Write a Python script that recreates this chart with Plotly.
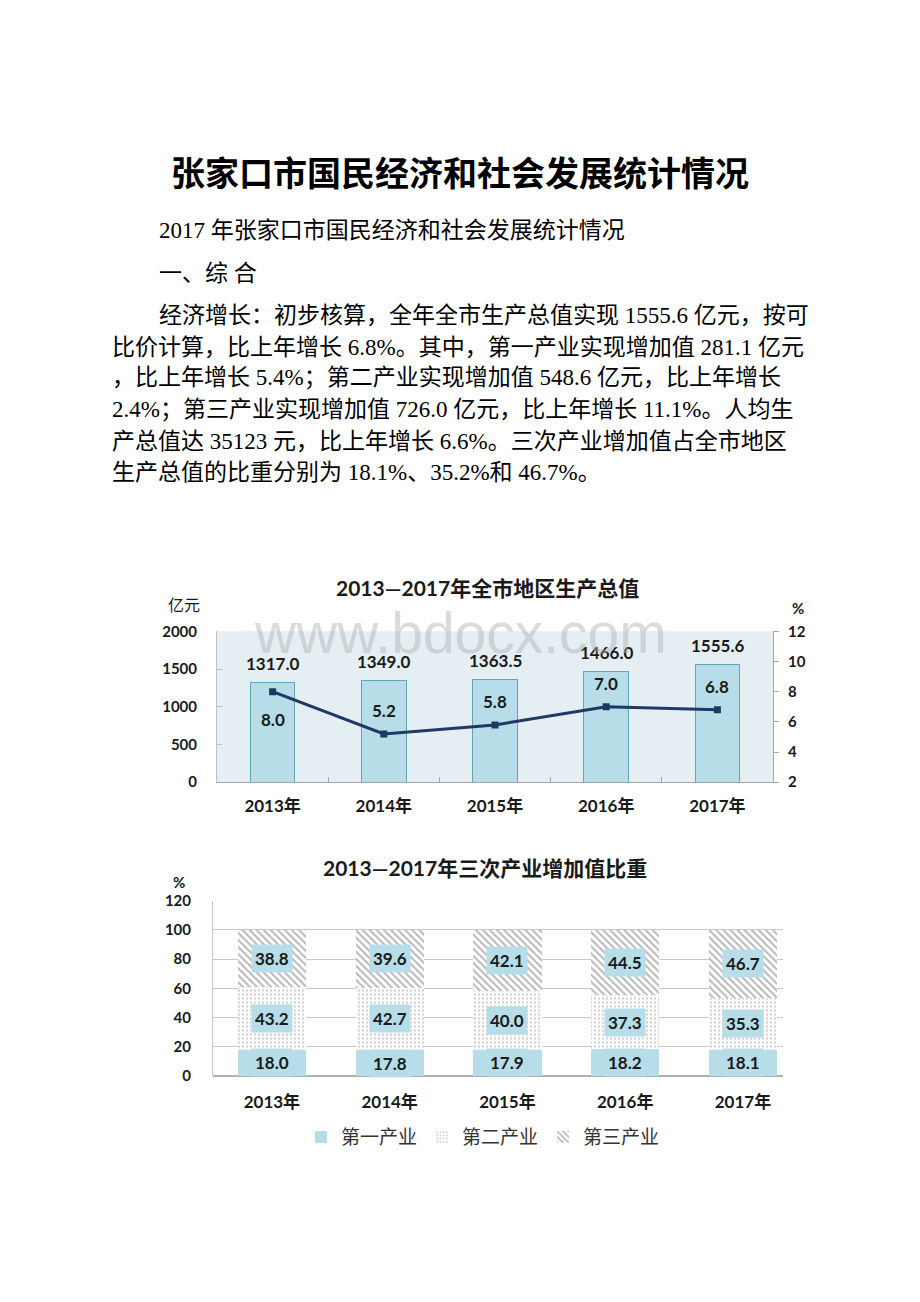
import plotly.graph_objects as go

# page is 920x1302; the html body has an 8px default margin, so the figure is 912x1294
OFF = 8
W, H = 920 - OFF, 1302 - OFF

# ---------------- data ----------------
years = ["2013年", "2014年", "2015年", "2016年", "2017年"]
gdp = [1317.0, 1349.0, 1363.5, 1466.0, 1555.6]          # 亿元
growth = [8.0, 5.2, 5.8, 7.0, 6.8]                       # %
primary = [18.0, 17.8, 17.9, 18.2, 18.1]                 # 第一产业 %
secondary = [43.2, 42.7, 40.0, 37.3, 35.3]               # 第二产业 %
tertiary = [38.8, 39.6, 42.1, 44.5, 46.7]                # 第三产业 %
industry_names = ["第一产业", "第二产业", "第三产业"]

doc_title = "张家口市国民经济和社会发展统计情况"
doc_sub = "2017 年张家口市国民经济和社会发展统计情况"
doc_sec = "一、综 合"
doc_lines = [
    "经济增长：初步核算，全年全市生产总值实现 1555.6 亿元，按可",
    "比价计算，比上年增长 6.8%。其中，第一产业实现增加值 281.1 亿元",
    "，比上年增长 5.4%；第二产业实现增加值 548.6 亿元，比上年增长",
    "2.4%；第三产业实现增加值 726.0 亿元，比上年增长 11.1%。人均生",
    "产总值达 35123 元，比上年增长 6.6%。三次产业增加值占全市地区",
    "生产总值的比重分别为 18.1%、35.2%和 46.7%。",
]
chart1_title = "2013—2017年全市地区生产总值"
chart2_title = "2013—2017年三次产业增加值比重"


def py(y):
    return 1 - (y - OFF) / H


def pxx(x):
    return (x - OFF) / W


CH_FONT = "Lato, 'Noto Sans CJK SC', sans-serif"
DOC_FONT = "'Liberation Serif', 'Noto Sans CJK SC', serif"
BAR_BLUE = "#b7dde8"
BAR_EDGE = "#5ea6ba"
NAVY = "#1f3864"
TXT = "#1a1a1a"

fig = go.Figure()

# ---------------- chart 1 ----------------
fig.add_trace(go.Bar(
    x=years, y=gdp, xaxis="x", yaxis="y", width=0.4,
    marker=dict(color=BAR_BLUE, line=dict(color=BAR_EDGE, width=1)),
    showlegend=False, hoverinfo="skip"))
fig.add_trace(go.Scatter(
    x=years, y=growth, xaxis="x", yaxis="y2", mode="lines+markers",
    line=dict(color=NAVY, width=3),
    marker=dict(symbol="square", size=7, color=NAVY),
    showlegend=False, hoverinfo="skip"))

# ---------------- chart 2 ----------------
fig.add_trace(go.Bar(
    x=years, y=primary, xaxis="x2", yaxis="y3", width=0.58, name=industry_names[0],
    marker=dict(color=BAR_BLUE, line=dict(width=0)), hoverinfo="skip"))
fig.add_trace(go.Bar(
    x=years, y=secondary, xaxis="x2", yaxis="y3", width=0.58, name=industry_names[1],
    marker=dict(color="white", line=dict(width=0),
                pattern=dict(shape=".", fgcolor="#9a9a9a", bgcolor="white",
                             size=4, solidity=0.25)),
    hoverinfo="skip"))
fig.add_trace(go.Bar(
    x=years, y=tertiary, xaxis="x2", yaxis="y3", width=0.58, name=industry_names[2],
    marker=dict(color="white", line=dict(width=0),
                pattern=dict(shape="\\", fgcolor="#6e6e6e", bgcolor="white",
                             size=5, solidity=0.4)),
    hoverinfo="skip"))

annotations = []


def paper_text(x, y, text, font, xanchor="center"):
    annotations.append(dict(x=pxx(x), y=py(y), xref="paper", yref="paper", text=text,
                            xanchor=xanchor, yanchor="middle", showarrow=False, font=font))


# document text
paper_text(460, 164, doc_title, dict(family="'Noto Sans CJK SC'", size=34, color="black", weight="bold"))
paper_text(157, 223, doc_sub, dict(family=DOC_FONT, size=23, color="black"), "left")
paper_text(157, 267, doc_sec, dict(family=DOC_FONT, size=23, color="black"), "left")
line_y = [310, 342, 373, 405, 437, 469]
for i, (t, yy) in enumerate(zip(doc_lines, line_y)):
    paper_text(157 if i == 0 else 110, yy, t, dict(family=DOC_FONT, size=23, color="black"), "left")

# chart titles and units
paper_text(487, 586, chart1_title, dict(family=CH_FONT, size=21, color=TXT, weight="bold"))
paper_text(184, 603, "亿元", dict(family=CH_FONT, size=16, color=TXT))
paper_text(798, 606, "%", dict(family=CH_FONT, size=15, color=TXT, weight="bold"))
paper_text(485, 869, chart2_title, dict(family=CH_FONT, size=21, color=TXT, weight="bold"))
paper_text(179, 884, "%", dict(family=CH_FONT, size=15, color=TXT, weight="bold"))

# chart 1 value labels
for xv, v in zip(years, gdp):
    annotations.append(dict(x=xv, y=v, xref="x", yref="y", text=f"{v:.1f}", yshift=19,
                            xanchor="center", yanchor="middle", showarrow=False,
                            font=dict(family=CH_FONT, size=17, color=TXT, weight="bold")))
for i, (xv, v) in enumerate(zip(years, growth)):
    annotations.append(dict(x=xv, y=v, xref="x", yref="y2", text=f"{v:.1f}",
                            yshift=-28 if i == 0 else 23, xanchor="center", yanchor="middle",
                            showarrow=False,
                            font=dict(family=CH_FONT, size=17, color=TXT, weight="bold")))

# chart 2 segment labels
for i, xv in enumerate(years):
    base = 0.0
    for series in (primary, secondary, tertiary):
        v = series[i]
        annotations.append(dict(x=xv, y=base + v / 2, xref="x2", yref="y3", text=f"{v:.1f}",
                                xanchor="center", yanchor="middle",
                                showarrow=False, bgcolor=BAR_BLUE, borderpad=3,
                                font=dict(family=CH_FONT, size=17, color=TXT, weight="bold")))
        base += v

# watermark
paper_text(460, 632, "www.bdocx.com",
           dict(family="'Liberation Sans', Arial, sans-serif", size=57, color="rgba(175,175,175,0.45)"))

shapes = [dict(type="rect", xref="x domain", yref="y domain", x0=0, x1=1, y0=0, y1=1,
               fillcolor="#e5eef2", line=dict(width=0), layer="below")]

axis_font = dict(family=CH_FONT, size=15, color=TXT, weight="bold")
xtick_font = dict(family=CH_FONT, size=17, color=TXT, weight="bold")

fig.update_layout(
    width=W, height=H, margin=dict(l=0, r=0, t=0, b=0),
    paper_bgcolor="white", plot_bgcolor="rgba(0,0,0,0)",
    barmode="stack", showlegend=True,
    annotations=annotations, shapes=shapes,
    xaxis=dict(domain=[pxx(217), pxx(773)], anchor="y", type="category",
               showline=True, linecolor="#a6a6a6", linewidth=1,
               ticks="inside", tickson="boundaries", ticklen=5, tickcolor="#a6a6a6",
               tickfont=xtick_font, ticklabelstandoff=8, showgrid=False),
    yaxis=dict(domain=[py(783), py(630)], anchor="x", range=[0, 2000], dtick=500,
               showgrid=False, zeroline=False, showline=True, linecolor="#bfbfbf",
               ticks="inside", ticklen=5, tickcolor="#bfbfbf",
               tickfont=axis_font, ticklabelstandoff=16),
    yaxis2=dict(overlaying="y", side="right", anchor="x", range=[2, 12], dtick=2,
                showgrid=False, zeroline=False, showline=True, linecolor="#a6a6a6",
                ticks="outside", ticklen=5, tickcolor="#a6a6a6",
                tickfont=axis_font, ticklabelstandoff=6),
    xaxis2=dict(domain=[pxx(213), pxx(783)], anchor="y3", type="category",
                range=[-0.5, 4.34], showline=False, ticks="", showgrid=False,
                tickfont=xtick_font, ticklabelstandoff=14),
    yaxis3=dict(domain=[py(1081), py(903)], anchor="x2", range=[0, 120], dtick=20,
                showgrid=True, gridcolor="#c8c8c8", gridwidth=1,
                zeroline=True, zerolinecolor="#b0b0b0", showline=True, linecolor="#c8c8c8",
                ticks="", tickfont=axis_font, ticklabelstandoff=18),
    legend=dict(orientation="h", x=pxx(483), xanchor="center", y=py(1143), yanchor="middle",
                font=dict(family="'Noto Sans CJK SC'", size=19, color="#333333"),
                traceorder="normal", itemwidth=30, bgcolor="rgba(0,0,0,0)"),
)

fig.write_html("out.html")
